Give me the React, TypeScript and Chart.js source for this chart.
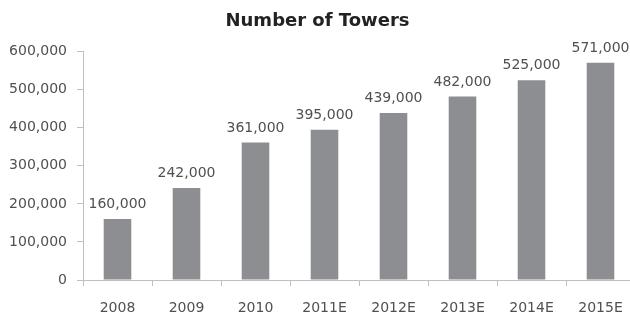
import React, { useEffect, useRef } from "react";
import { Chart, registerables } from "chart.js";

Chart.register(...registerables);

const categories = ["2008", "2009", "2010", "2011E", "2012E", "2013E", "2014E", "2015E"];
const towers = [160000, 242000, 361000, 395000, 439000, 482000, 525000, 571000];
const yTicks = [0, 100000, 200000, 300000, 400000, 500000, 600000];

const FONT = "'DejaVu Sans', sans-serif";
const fmt = (v: number) => v.toLocaleString("en-US");

const dataLabels = {
  id: "dataLabels",
  afterDatasetsDraw(chart: any) {
    const ctx = chart.ctx;
    const meta = chart.getDatasetMeta(0);
    ctx.save();
    ctx.font = `14px ${FONT}`;
    ctx.fillStyle = "#505050";
    ctx.textAlign = "center";
    ctx.textBaseline = "alphabetic";
    meta.data.forEach((el: any, i: number) => {
      ctx.fillText(fmt(towers[i]), el.x, el.y - 11);
    });
    ctx.restore();
  },
};

export default function App() {
  const ref = useRef<HTMLCanvasElement>(null);
  useEffect(() => {
    const chart = new Chart(ref.current!, {
      type: "bar",
      data: {
        labels: categories,
        datasets: [
          {
            data: towers,
            backgroundColor: "#8d8e92",
            barPercentage: 0.4,
            categoryPercentage: 1,
          },
        ],
      },
      options: {
        responsive: false,
        animation: false,
        layout: { padding: { left: 0, right: 5, top: 0, bottom: 0 } },
        plugins: {
          legend: { display: false },
          tooltip: { enabled: false },
          title: {
            display: true,
            text: "Number of Towers",
            color: "#222222",
            font: { family: FONT, size: 18, weight: "bold" },
            padding: { top: 11, bottom: 19 },
          },
        },
        scales: {
          x: {
            grid: {
              display: true,
              offset: true,
              drawOnChartArea: false,
              drawTicks: true,
              tickLength: 6,
              color: "#bfbfbf",
            },
            border: { display: true, color: "#bfbfbf" },
            ticks: {
              color: "#505050",
              font: { family: FONT, size: 14 },
              padding: 14,
              maxRotation: 0,
            },
            afterFit(scale: any) {
              scale.height = 37;
            },
          },
          y: {
            min: 0,
            max: 600000,
            afterBuildTicks(scale: any) {
              scale.ticks = yTicks.map((v) => ({ value: v }));
            },
            grid: {
              display: true,
              drawOnChartArea: false,
              drawTicks: true,
              tickLength: 6,
              color: "#bfbfbf",
            },
            border: { display: true, color: "#bfbfbf" },
            ticks: {
              color: "#505050",
              font: { family: FONT, size: 14 },
              padding: 10,
              callback: (v: any) => fmt(Number(v)),
            },
            afterFit(scale: any) {
              scale.width = 83;
            },
          },
        },
      },
      plugins: [dataLabels],
    });
    return () => chart.destroy();
  }, []);
  return (
    <div
      style={{
        position: "fixed",
        left: 0,
        top: 0,
        width: 630,
        height: 317,
        overflow: "hidden",
        background: "#ffffff",
      }}
    >
      <canvas ref={ref} width={640} height={317} style={{ display: "block" }} />
    </div>
  );
}
